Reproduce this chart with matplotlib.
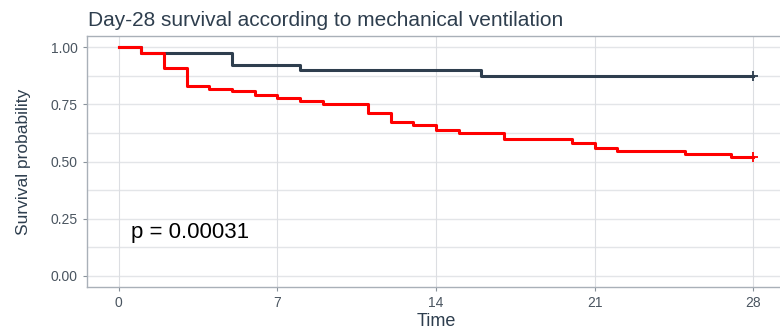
import matplotlib
matplotlib.use("Agg")
import matplotlib.pyplot as plt
import numpy as np

plt.rcParams["font.family"] = ["Liberation Sans", "DejaVu Sans"]

# Data
time_ticks = [0, 7, 14, 21, 28]
y_ticks = [0.00, 0.25, 0.50, 0.75, 1.00]
y_tick_labels = ["0.00", "0.25", "0.50", "0.75", "1.00"]

mv_times = [0, 1, 5, 8, 16, 28]
mv_surv = [1.0, 0.976, 0.924, 0.899, 0.875, 0.875]

red_times = [0, 1, 2, 3, 4, 5, 6, 7, 8, 9, 11, 12, 13, 14, 15, 17, 20, 21, 22, 25, 27, 28]
red_surv = [1.0, 0.976, 0.910, 0.830, 0.818, 0.807, 0.790, 0.778, 0.765, 0.753, 0.714,
            0.673, 0.661, 0.637, 0.624, 0.600, 0.583, 0.561, 0.546, 0.532, 0.520, 0.520]

title = "Day-28 survival according to mechanical ventilation"
pval_text = "p = 0.00031"

text_col = "#2E3E4E"
dark_col = "#2E3E4E"
red_col = "#FF0000"

fig = plt.figure(figsize=(7.8, 3.31), dpi=100)
W, H = 780, 331
left, right, top, bottom = 87, 785, 36, 287
ax = fig.add_axes([left / W, 1 - bottom / H, (right - left) / W, (bottom - top) / H])

ax.set_xlim(-1.4, 29.4)
ax.set_ylim(-0.05, 1.05)

# grid
for y in np.arange(0, 1.01, 0.125):
    ax.axhline(y, color="#E3E5E8", lw=1.0, zorder=0)
for x in time_ticks:
    ax.axvline(x, color="#DCDEE2", lw=0.8, zorder=0)

ax.step(mv_times, mv_surv, where="post", color=dark_col, lw=2.2, zorder=3)
ax.step(red_times, red_surv, where="post", color=red_col, lw=2.2, zorder=4)
ax.plot([mv_times[-1]], [mv_surv[-1]], marker="+", color=dark_col, ms=7, mew=1.3, zorder=5)
ax.plot([red_times[-1]], [red_surv[-1]], marker="+", color=red_col, ms=7, mew=1.3, zorder=5)

ax.set_xticks(time_ticks)
ax.set_xticklabels([str(t) for t in time_ticks])
ax.set_yticks(y_ticks)
ax.set_yticklabels(y_tick_labels)
ax.tick_params(axis="both", colors="#8A939C", labelcolor="#4A5560", labelsize=10, length=3)

for s in ["left", "bottom", "top", "right"]:
    ax.spines[s].set_color("#A9B0B8")
    ax.spines[s].set_linewidth(1.0)

ax.set_xlabel("Time", color=text_col, fontsize=13, labelpad=2)
ax.set_ylabel("Survival probability", color=text_col, fontsize=12.5, labelpad=14)

ax.text(0.55, 0.19, pval_text, fontsize=16, color="black", ha="left", va="center")

fig.text(88 / W, 1 - 26 / H, title, fontsize=15, color=text_col, ha="left", va="baseline")

fig.savefig("out.png", dpi=100)
